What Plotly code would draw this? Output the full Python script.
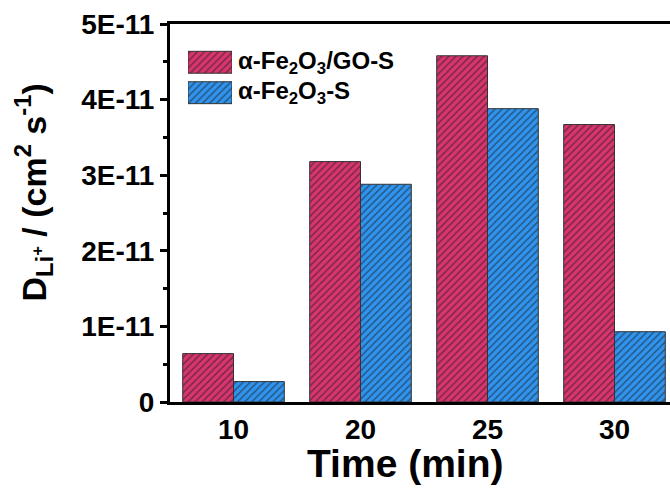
import plotly.graph_objects as go

categories = ["10", "20", "25", "30"]
go_s = [0.64e-11, 3.18e-11, 4.58e-11, 3.67e-11]
fe_s = [0.27e-11, 2.88e-11, 3.88e-11, 0.93e-11]
series_names = ["α-Fe<sub>2</sub>O<sub>3</sub>/GO-S", "α-Fe<sub>2</sub>O<sub>3</sub>-S"]
ytick_vals = [0, 1e-11, 2e-11, 3e-11, 4e-11, 5e-11]
ytick_text = ["0", "1E-11", "2E-11", "3E-11", "4E-11", "5E-11"]
yminor_vals = [0.5e-11, 1.5e-11, 2.5e-11, 3.5e-11, 4.5e-11]

RED = "#d8356f"
BLUE = "#3094ee"
FONT = "Liberation Sans"

def pattern():
    return dict(shape="/", fgcolor="#1a1a1a", size=5, solidity=0.3, fillmode="overlay")

fig = go.Figure()
fig.add_trace(go.Bar(x=categories, y=go_s, name=series_names[0],
                     marker=dict(color=RED, line=dict(color="#333", width=1), pattern=pattern())))
fig.add_trace(go.Bar(x=categories, y=fe_s, name=series_names[1],
                     marker=dict(color=BLUE, line=dict(color="#333", width=1), pattern=pattern())))

# legend swatches (hand-drawn legend with hatch patterns)
for i, (nm, col) in enumerate(zip(series_names, [RED, BLUE])):
    fig.add_trace(go.Bar(x=[1], y=[1 - i], orientation="h", width=0.72,
                         xaxis="x2", yaxis="y2", showlegend=False, hoverinfo="skip",
                         marker=dict(color=col, line=dict(color="#333", width=1), pattern=pattern())))
    fig.add_annotation(xref="paper", yref="y2", x=0.132, y=1 - i, text=nm, showarrow=False,
                       xanchor="left", yanchor="middle",
                       font=dict(family=FONT, size=24, color="black", weight="bold"))

# y-axis title as annotation for exact placement
fig.add_annotation(xref="paper", yref="paper", x=-0.274, y=0.554,
                   text="D<sub>Li<sup>+</sup></sub> / (cm<sup>2</sup> s<sup>-1</sup>)",
                   textangle=-90, showarrow=False, xanchor="center", yanchor="middle",
                   font=dict(family=FONT, size=34, color="black", weight="bold"))

# x-axis title as annotation
fig.add_annotation(xref="paper", yref="paper", x=0.47, y=-0.162,
                   text="Time (min)", showarrow=False, xanchor="center", yanchor="middle",
                   font=dict(family=FONT, size=39, color="black", weight="bold"))

fig.update_layout(
    width=670, height=488,
    margin=dict(l=170, r=0, t=24, b=86),
    plot_bgcolor="white", paper_bgcolor="white",
    showlegend=False,
    barmode="group", bargap=0.2, bargroupgap=0,
    font=dict(family=FONT, color="black", weight="bold"),
    xaxis=dict(range=[-0.5, 3.437], showline=True, linecolor="black", linewidth=3,
               mirror=True, ticks="", showgrid=False, ticklabelstandoff=0,
               tickfont=dict(size=28, family=FONT, weight="bold")),
    yaxis=dict(range=[0, 5e-11], showline=True, linecolor="black", linewidth=3,
               ticks="outside", ticklen=7, tickwidth=3, tickcolor="black",
               tickvals=ytick_vals, ticktext=ytick_text, showgrid=False, zeroline=False,
               minor=dict(tickvals=yminor_vals, ticks="outside", ticklen=4, tickwidth=3, tickcolor="black"),
               tickfont=dict(size=28, family=FONT, weight="bold")),
    xaxis2=dict(domain=[0.036, 0.124], range=[0, 1], visible=False, fixedrange=True, anchor="y2"),
    yaxis2=dict(domain=[0.778, 0.939], range=[-0.5, 1.5], visible=False, fixedrange=True, anchor="x2"),
)

fig.write_html("out.html")
